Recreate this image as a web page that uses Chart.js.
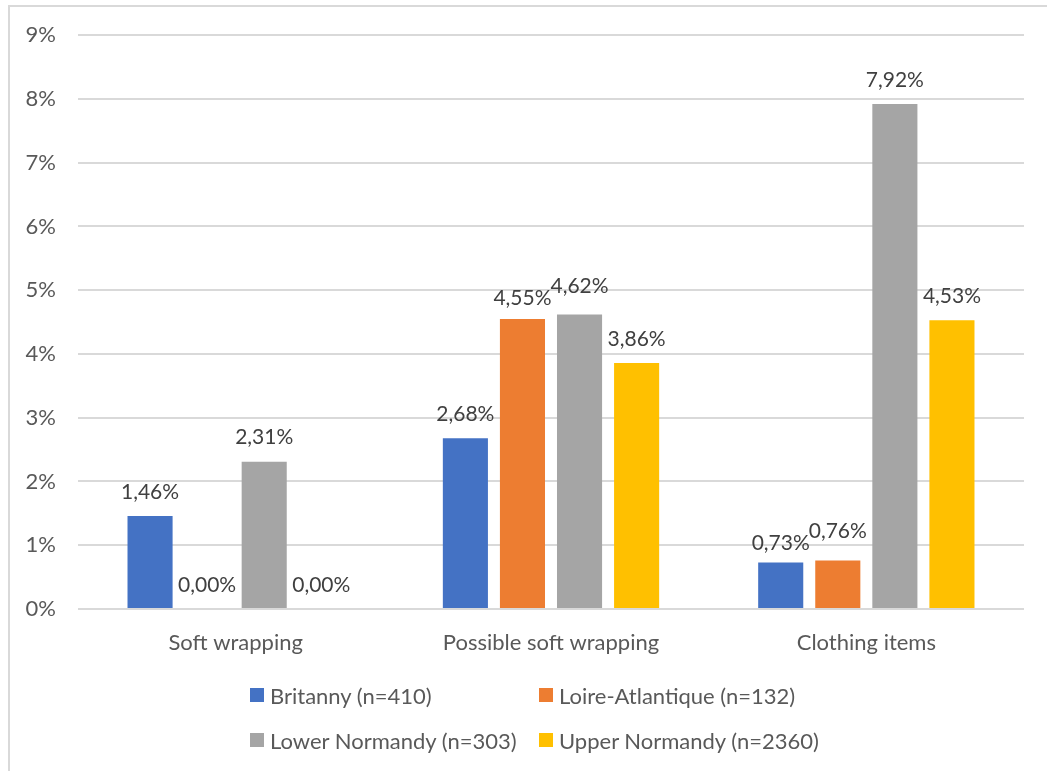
<!DOCTYPE html>
<html>
<head>
<meta charset="utf-8">
<script src="https://cdn.jsdelivr.net/npm/chart.js@4/dist/chart.umd.min.js"></script>
<style>
  html, body { margin: 0; padding: 0; background: #fff; }
  #wrap { position: relative; width: 1047px; height: 771px; overflow: hidden; }
  #frame { position: absolute; left: 8px; top: 5px; width: 1100px; height: 900px;
           border-left: 2px solid #d9d9d9; border-top: 2px solid #d9d9d9; box-sizing: border-box; }
  #legend { position: absolute; left: 250px; top: 681px; width: 700px;
            display: grid; grid-template-columns: 289px 400px; row-gap: 17px;
            font-family: Lato, "Open Sans", sans-serif; font-size: 22px; color: #595959; }
  .item { display: flex; align-items: center; height: 28px; white-space: nowrap; }
  .box { width: 14px; height: 14px; margin-right: 6px; flex: none; }
</style>
</head>
<body>
<div id="wrap">
  <canvas id="c" width="1047" height="771"></canvas>
  <div id="frame"></div>
  <div id="legend"></div>
</div>
<script>
const categories = ['Soft wrapping', 'Possible soft wrapping', 'Clothing items'];
const seriesNames = ['Britanny (n=410)', 'Loire-Atlantique (n=132)', 'Lower Normandy (n=303)', 'Upper Normandy (n=2360)'];
const seriesColors = ['#4472C4', '#ED7D31', '#A5A5A5', '#FFC000'];
const britanny = [1.46, 2.68, 0.73];
const loireAtlantique = [0.00, 4.55, 0.76];
const lowerNormandy = [2.31, 4.62, 7.92];
const upperNormandy = [0.00, 3.86, 4.53];
const seriesValues = [britanny, loireAtlantique, lowerNormandy, upperNormandy];

const FONT = 'Lato, "Open Sans", sans-serif';
const fmt = v => v.toFixed(2).replace('.', ',') + '%';

// value labels above bars; neighbouring labels that crowd each other are spread apart vertically
const labelPlugin = {
    id: 'barLabels',
    afterDatasetsDraw(chart) {
        const ctx = chart.ctx;
        ctx.save();
        ctx.font = '21px ' + FONT;
        ctx.fillStyle = '#404040';
        ctx.textAlign = 'center';
        ctx.textBaseline = 'middle';
        chart.data.labels.forEach((_, j) => {
            const items = chart.data.datasets.map((ds, i) => {
                const bar = chart.getDatasetMeta(i).data[j];
                const text = fmt(ds.data[j]);
                return { text, x: bar.x, y: bar.y - 24, w: ctx.measureText(text).width + 8 };
            });
            for (let k = 1; k < items.length; k++) {
                const a = items[k - 1], b = items[k];
                if (Math.abs(b.x - a.x) < (a.w + b.w) / 2 && Math.abs(b.y - a.y) < 12) {
                    const mid = (a.y + b.y) / 2;
                    const lowFirst = a.y >= b.y;
                    a.y = mid + (lowFirst ? 6 : -6);
                    b.y = mid + (lowFirst ? -6 : 6);
                }
            }
            items.forEach(it => ctx.fillText(it.text, it.x, it.y));
        });
        ctx.restore();
    }
};

new Chart(document.getElementById('c'), {
    type: 'bar',
    data: {
        labels: categories,
        datasets: seriesNames.map((name, i) => ({
            label: name,
            data: seriesValues[i],
            backgroundColor: seriesColors[i],
            borderWidth: 0,
            categoryPercentage: 0.724,
            barPercentage: 0.79
        }))
    },
    options: {
        responsive: false,
        animation: false,
        layout: { padding: { left: 20, right: 23, top: 35, bottom: 102 } },
        plugins: { legend: { display: false }, tooltip: { enabled: false } },
        scales: {
            x: {
                grid: { display: false, drawTicks: false },
                border: { display: false },
                ticks: { color: '#595959', font: { family: FONT, size: 22 }, padding: 21 },
                afterFit(s) { s.height = 60; }
            },
            y: {
                min: 0, max: 9,
                grid: { color: '#d9d9d9', lineWidth: 2, drawTicks: false },
                border: { display: false },
                ticks: {
                    stepSize: 1,
                    padding: 22,
                    color: '#595959',
                    font: { family: FONT, size: 22 },
                    callback: v => v + '%'
                },
                afterFit(s) { s.width = 58; }
            }
        }
    },
    plugins: [labelPlugin]
});

const legend = document.getElementById('legend');
seriesNames.forEach((name, i) => {
    const item = document.createElement('div');
    item.className = 'item';
    const box = document.createElement('span');
    box.className = 'box';
    box.style.background = seriesColors[i];
    item.appendChild(box);
    item.appendChild(document.createTextNode(name));
    legend.appendChild(item);
});
</script>
</body>
</html>
